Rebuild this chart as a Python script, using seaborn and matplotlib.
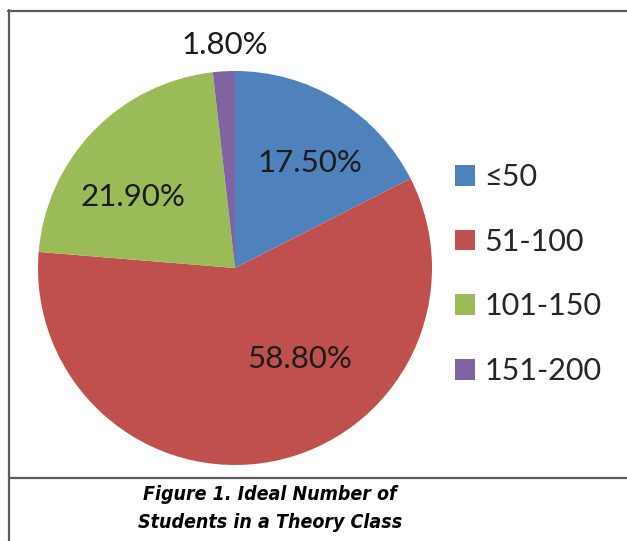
import matplotlib
matplotlib.use("Agg")
import matplotlib.pyplot as plt
from matplotlib.lines import Line2D
from matplotlib.patches import Patch
import seaborn as sns

# Class-size preference shares (percent)
categories = ["\u226450", "51-100", "101-150", "151-200"]
shares = [17.5, 58.8, 21.9, 1.8]
caption_lines = ["Figure 1. Ideal Number of", "Students in a Theory Class"]

sns.set_theme(style="white")
plt.rcParams["font.family"] = ["Lato", "DejaVu Sans"]

colors = sns.color_palette(["#4F81BD", "#C0504D", "#9BBB59", "#8064A2"])

W, H = 627, 541
fig = plt.figure(figsize=(W / 100, H / 100), dpi=100)
fig.patch.set_facecolor("white")

# square axes holding the pie, centred at (235, 268) px with radius ~197 px
lim = 1.15
r_px = 197
side = 2 * lim * r_px
cx, cy = 235, 268
ax = fig.add_axes([(cx - side / 2) / W, (H - cy - side / 2) / H, side / W, side / H])

wedges, _ = ax.pie(shares, colors=colors, startangle=90, counterclock=False,
                   radius=1.0, wedgeprops=dict(linewidth=0))
ax.set_xlim(-lim, lim)
ax.set_ylim(-lim, lim)
ax.set_aspect("equal")
ax.axis("off")

# percentage labels, placed the way the chart lays them out
label_pos = [(0.38, 0.535), (0.33, -0.46), (-0.52, 0.36), (-0.05, 1.13)]
for v, (lx, ly) in zip(shares, label_pos):
    ax.text(lx, ly, f"{v:.2f}%", ha="center", va="center",
            fontsize=22.5, color="#1c1c1c")

# legend with square swatches
handles = [Patch(facecolor=c, edgecolor="none") for c in colors]
fig.legend(handles, categories, loc="upper left",
           bbox_to_anchor=(455 / W, 1 - 163 / H), frameon=False,
           fontsize=22, handlelength=0.66, handleheight=0.66,
           handletextpad=0.3, labelspacing=1.2, borderpad=0,
           borderaxespad=0)

# frame lines around chart and caption cell
line_kw = dict(color="#5a5a5a", linewidth=1.6, transform=fig.transFigure)
fig.add_artist(Line2D([8 / W, 1], [1 - 11 / H, 1 - 11 / H], **line_kw))
fig.add_artist(Line2D([9 / W, 9 / W], [1 - 10 / H, 0], **line_kw))
fig.add_artist(Line2D([9 / W, 1], [1 - 478 / H, 1 - 478 / H], **line_kw))

# caption
for txt, ypx in zip(caption_lines, [494, 522]):
    fig.text(270 / W, 1 - ypx / H, txt, ha="center", va="center",
             fontsize=14, fontweight="bold", fontstyle="italic",
             fontstretch="condensed", family=["DejaVu Sans"], color="black")

fig.savefig("out.png", dpi=100, facecolor="white")
